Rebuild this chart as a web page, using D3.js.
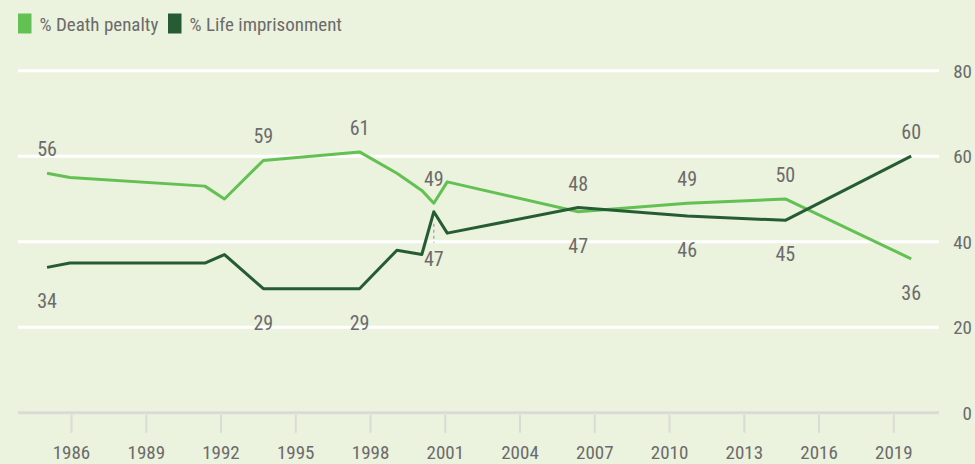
<!DOCTYPE html>
<html>
<head>
<meta charset="utf-8">
<script src="https://cdn.jsdelivr.net/npm/d3@7"></script>
<style>
  html, body { margin: 0; padding: 0; background: #ebf2dd; }
  svg { display: block; }
  text { font-family: "Liberation Sans Narrow", "Roboto Condensed", "Liberation Sans", sans-serif; fill: #6b6b6b; }
</style>
</head>
<body>
<svg id="chart" width="975" height="464"></svg>
<script>
// ---- data ----
const pollDates = ["1985-01-15", "1985-12-16", "1991-05-18", "1992-02-28", "1993-09-20", "1997-07-31",
  "1999-01-30", "2000-01-30", "2000-07-24", "2001-02-06", "2006-05-10", "2010-09-24", "2014-09-01", "2019-09-20"];
const deathPenalty     = [56, 55, 53, 50, 59, 61, 56, 52, 49, 54, 47, 49, 50, 36];
const lifeImprisonment = [34, 35, 35, 37, 29, 29, 38, 37, 47, 42, 48, 46, 45, 60];
const labeledPoints = [0, 4, 5, 8, 10, 11, 12, 13];
const leaderPoints = [8];
const xTickYears = [1986, 1989, 1992, 1995, 1998, 2001, 2004, 2007, 2010, 2013, 2016, 2019];
const yTickValues = [0, 20, 40, 60, 80];
const seriesNames = ["% Death penalty", "% Life imprisonment"];
const seriesColors = ["#62c152", "#265c34"];

// ---- setup ----
const svg = d3.select("#chart");
const parse = d3.timeParse("%Y-%m-%d");
const dates = pollDates.map(parse);

const x = d3.scaleTime()
  .domain([new Date(1986, 0, 1), new Date(2019, 0, 1)])
  .range([71, 893.3]);
const y = d3.scaleLinear().domain([0, 80]).range([412.7, 70.7]);
const gridX0 = 18, gridX1 = 939;

// gridlines
svg.append("g").selectAll("line")
  .data(yTickValues)
  .join("line")
  .attr("x1", gridX0).attr("x2", gridX1)
  .attr("y1", d => y(d)).attr("y2", d => y(d))
  .attr("stroke", d => d === 0 ? "#d9dbd6" : "#ffffff")
  .attr("stroke-width", 3);

// y axis labels (right side)
const yAxis = svg.append("g")
  .attr("transform", "translate(972,0)")
  .call(d3.axisRight(y).tickValues(yTickValues).tickSize(0).tickPadding(0));
yAxis.select(".domain").remove();
yAxis.selectAll("text")
  .attr("text-anchor", "end")
  .attr("x", 0)
  .attr("dy", "0.35em")
  .style("font-size", "19px")
  .attr("fill", "#6b6b6b");

// x axis
const xAxis = svg.append("g")
  .attr("transform", `translate(0,${y(0)})`)
  .call(d3.axisBottom(x)
    .tickValues(xTickYears.map(yr => new Date(yr, 0, 1)))
    .tickFormat(d3.timeFormat("%Y"))
    .tickSize(20));
xAxis.select(".domain").remove();
xAxis.selectAll(".tick line").attr("stroke", "#d9dbd6").attr("stroke-width", 2).attr("y1", 2);
xAxis.selectAll("text")
  .attr("y", 46.5)
  .attr("dy", 0)
  .style("font-size", "19px")
  .attr("fill", "#6b6b6b");

// lines
const series = [deathPenalty, lifeImprisonment];
const line = d3.line()
  .x((d, i) => x(dates[i]))
  .y(d => y(d));

svg.append("g").selectAll("path")
  .data(series)
  .join("path")
  .attr("d", d => line(d))
  .attr("fill", "none")
  .attr("stroke", (d, i) => seriesColors[i])
  .attr("stroke-width", 3)
  .attr("stroke-linejoin", "round")
  .attr("stroke-linecap", "butt");

// data labels
const lab = svg.append("g").style("font-size", "20px").attr("text-anchor", "middle");
labeledPoints.forEach(i => {
  const a = deathPenalty[i], b = lifeImprisonment[i];
  const hi = Math.max(a, b), lo = Math.min(a, b);
  const px = x(dates[i]);
  lab.append("text").attr("x", px).attr("y", y(hi) - 17).text(hi);
  const leader = leaderPoints.includes(i);
  const off = leader ? 54 : 41;
  lab.append("text").attr("x", px).attr("y", y(lo) + off).text(lo);
  if (leader) {
    svg.append("line")
      .attr("x1", px).attr("x2", px)
      .attr("y1", y(lo) + 12).attr("y2", y(lo) + 31)
      .attr("stroke", "#9a9a9a").attr("stroke-width", 1.2)
      .attr("stroke-dasharray", "3,3");
  }
});

// legend
const legend = svg.append("g");
const legendX = [18, 168];
seriesNames.forEach((name, i) => {
  legend.append("rect")
    .attr("x", legendX[i]).attr("y", 13.5)
    .attr("width", 13.5).attr("height", 20)
    .attr("fill", seriesColors[i]);
  legend.append("text")
    .attr("x", legendX[i] + 21.5).attr("y", 31)
    .style("font-size", "19px")
    .attr("fill", "#6d6d6d")
    .text(name);
});
</script>
</body>
</html>
